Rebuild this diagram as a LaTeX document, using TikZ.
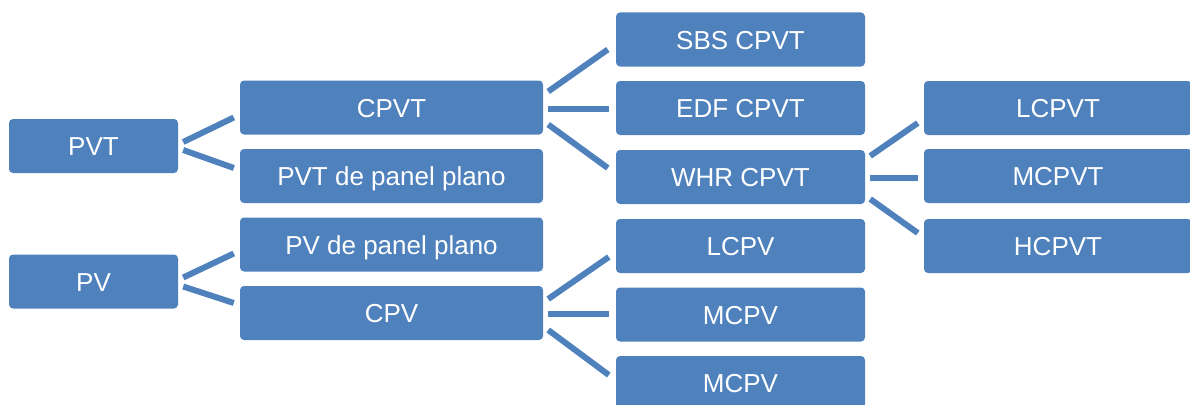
\documentclass[tikz,border=0pt]{standalone}
\usepackage{fontspec}
\setmainfont{Liberation Sans}
\usetikzlibrary{calc}
\definecolor{boxblue}{RGB}{79,129,189}

\begin{document}
\begin{tikzpicture}[x=1pt, y=-1pt,
  box/.style={rectangle, rounded corners=4pt, fill=boxblue, text=white, inner sep=0pt,
    minimum height=54pt, text height=19pt, text depth=0pt, font=\fontsize{26}{30}\selectfont},
  lvla/.style={box, minimum width=169pt},
  lvlb/.style={box, minimum width=303pt},
  lvlc/.style={box, minimum width=249pt},
  lvld/.style={box, minimum width=268pt},
  link/.style={draw=boxblue, line width=6pt}]
  \useasboundingbox (0,0) rectangle (1190,404);
  \clip (0,0) rectangle (1190,404);
  \node[lvla] (0) at (93.5,146) {PVT};
  \node[lvla] (1) at (93.5,281.5) {PV};
  \node[lvlb] (2) at (391.5,107.5) {CPVT};
  \node[lvlb] (3) at (391.5,176) {PVT de panel plano};
  \node[lvlb] (4) at (391.5,244.5) {PV de panel plano};
  \node[lvlb] (5) at (391.5,313) {CPV};
  \node[lvlc] (6) at (740.5,39.5) {SBS CPVT};
  \node[lvlc] (7) at (740.5,108) {EDF CPVT};
  \node[lvlc] (8) at (740.5,177) {WHR CPVT};
  \node[lvlc] (9) at (740.5,246) {LCPV};
  \node[lvlc] (10) at (740.5,314.5) {MCPV};
  \node[lvlc] (11) at (740.5,383) {MCPV};
  \node[lvld] (12) at (1058,108) {LCPVT};
  \node[lvld] (13) at (1058,176) {MCPVT};
  \node[lvld] (14) at (1058,246) {HCPVT};
  \draw[link] ([shift={(5,-4)}]0.east) -- ([shift={(-6,10)}]2.west);
  \draw[link] ([shift={(5,4)}]0.east) -- ([shift={(-6,-8)}]3.west);
  \draw[link] ([shift={(5,-4)}]1.east) -- ([shift={(-6,9)}]4.west);
  \draw[link] ([shift={(5,5)}]1.east) -- ([shift={(-6,-10)}]5.west);
  \draw[link] ([shift={(5,-16)}]2.east) -- ([shift={(-8,10)}]6.west);
  \draw[link] ([shift={(5,1)}]2.east) -- ([shift={(-7,0.5)}]7.west);
  \draw[link] ([shift={(5,17)}]2.east) -- ([shift={(-8,-9)}]8.west);
  \draw[link] ([shift={(5,-14)}]5.east) -- ([shift={(-7,11)}]9.west);
  \draw[link] ([shift={(5,1)}]5.east) -- ([shift={(-7,-0.5)}]10.west);
  \draw[link] ([shift={(5,-21)}]8.east) -- ([shift={(-6,15)}]12.west);
  \draw[link] ([shift={(5,1)}]8.east) -- ([shift={(-6,2)}]13.west);
  \draw[link] ([shift={(5,17)}]5.east) -- ([shift={(-7,-8)}]11.west);
  \draw[link] ([shift={(5,22)}]8.east) -- ([shift={(-6,-13)}]14.west);
\end{tikzpicture}
\end{document}
